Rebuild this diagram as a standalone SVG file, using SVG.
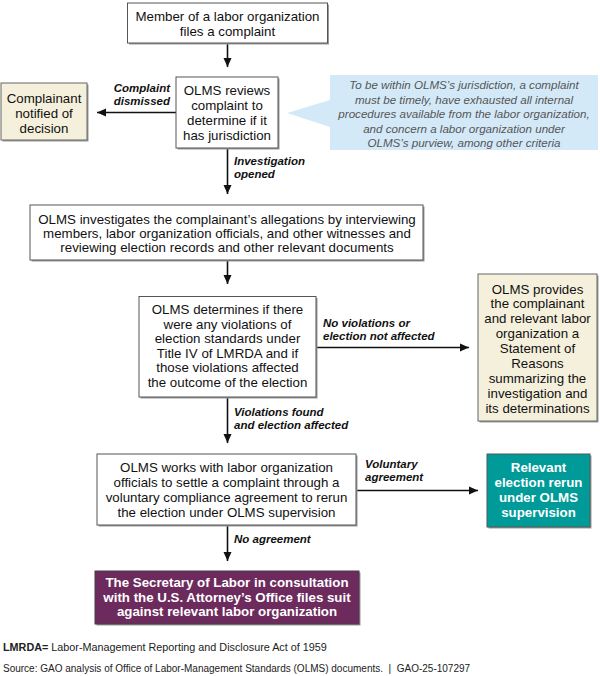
<svg xmlns="http://www.w3.org/2000/svg" width="600" height="676" viewBox="0 0 600 676">
<style>
.box{fill:#ffffff;stroke:#555555;stroke-width:1}
.cream{fill:#f5f0dc;stroke:#666666;stroke-width:1}
.teal{fill:#009b98;stroke:#4d5a5a;stroke-width:1}
.purple{fill:#6d2a5d;stroke:#4a3a45;stroke-width:1}
.shadow{fill:#9a9a9a}
.t{font-family:"Liberation Sans",Arial,sans-serif;font-size:13.3px;fill:#111111;text-anchor:middle}
.tw{font-family:"Liberation Sans",Arial,sans-serif;font-size:13.3px;font-weight:bold;fill:#ffffff;text-anchor:middle}
.lbl{font-family:"Liberation Sans",Arial,sans-serif;font-size:11.5px;font-weight:bold;font-style:italic;fill:#111111}
.note{font-family:"Liberation Sans",Arial,sans-serif;font-size:11.6px;font-style:italic;fill:#555555;text-anchor:middle}
.foot{font-family:"Liberation Sans",Arial,sans-serif;font-size:10.8px;fill:#222222}
.src{font-family:"Liberation Sans",Arial,sans-serif;font-size:10px;fill:#222222;white-space:pre}
.line{stroke:#111111;stroke-width:1.6;fill:none;marker-end:url(#ah)}
</style>
<defs>
<marker id="ah" markerUnits="userSpaceOnUse" markerWidth="10" markerHeight="10" refX="9" refY="5" orient="auto">
<path d="M0,1 L9,5 L0,9 z" fill="#111111"/>
</marker>
</defs>
<rect width="600" height="676" fill="#ffffff"/>

<g id="connectors">
<line class="line" x1="227.5" y1="43" x2="227.5" y2="67"/>
<line class="line" x1="176" y1="112.5" x2="97" y2="112.5"/>
<line class="line" x1="227.5" y1="148" x2="227.5" y2="194"/>
<line class="line" x1="227.5" y1="260" x2="227.5" y2="284"/>
<line class="line" x1="316" y1="347.5" x2="469" y2="347.5"/>
<line class="line" x1="227.5" y1="397" x2="227.5" y2="443"/>
<line class="line" x1="357" y1="490.5" x2="478" y2="490.5"/>
<line class="line" x1="227.5" y1="525" x2="227.5" y2="561"/>
<text class="lbl" text-anchor="end" x="170" y="92">Complaint</text>
<text class="lbl" text-anchor="end" x="170" y="105">dismissed</text>
<text class="lbl" x="234" y="165">Investigation</text>
<text class="lbl" x="234" y="178">opened</text>
<text class="lbl" x="323" y="326.5">No violations or</text>
<text class="lbl" x="323" y="340">election not affected</text>
<text class="lbl" x="234" y="416">Violations found</text>
<text class="lbl" x="234" y="428.5">and election affected</text>
<text class="lbl" x="365" y="467.5">Voluntary</text>
<text class="lbl" x="365" y="481">agreement</text>
<text class="lbl" x="234" y="543">No agreement</text>
</g>

<g id="n1">
<rect class="shadow" x="129" y="4.5" width="200" height="40"/>
<rect class="box" x="127.5" y="3" width="200" height="40"/>
<text class="t" x="227.5" y="20.5">Member of a labor organization</text>
<text class="t" x="227.5" y="35.5">files a complaint</text>
</g>

<g id="n2">
<rect class="shadow" x="177.5" y="78.5" width="102" height="71"/>
<rect class="box" x="176" y="77" width="102" height="71"/>
<text class="t" x="227" y="95">OLMS reviews</text>
<text class="t" x="227" y="110">complaint to</text>
<text class="t" x="227" y="125">determine if it</text>
<text class="t" x="227" y="140">has jurisdiction</text>
</g>

<g id="n-dismissed">
<rect class="shadow" x="2.5" y="84.5" width="86" height="57"/>
<rect class="cream" x="1" y="83" width="86" height="57"/>
<text class="t" x="44" y="102.5">Complainant</text>
<text class="t" x="44" y="117.5">notified of</text>
<text class="t" x="44" y="132.5">decision</text>
</g>

<g id="callout">
<path d="M330,75 L598,75 L598,150 L330,150 L330,127 L287,113 L330,100 Z" fill="#d4e9f8"/>
<text class="note" x="464" y="89">To be within OLMS’s jurisdiction, a complaint</text>
<text class="note" x="464" y="103.5">must be timely, have exhausted all internal</text>
<text class="note" x="464" y="118">procedures available from the labor organization,</text>
<text class="note" x="464" y="132.5">and concern a labor organization under</text>
<text class="note" x="464" y="147">OLMS’s purview, among other criteria</text>
</g>

<g id="n3">
<rect class="shadow" x="31.5" y="206.5" width="393" height="55"/>
<rect class="box" x="30" y="205" width="393" height="55"/>
<text class="t" x="227" y="223.5">OLMS investigates the complainant’s allegations by interviewing</text>
<text class="t" x="227" y="237.5">members, labor organization officials, and other witnesses and</text>
<text class="t" x="227" y="251.5">reviewing election records and other relevant documents</text>
</g>

<g id="n4">
<rect class="shadow" x="140.5" y="298" width="177" height="100.5"/>
<rect class="box" x="139" y="296.5" width="177" height="100.5"/>
<text class="t" x="227.5" y="314">OLMS determines if there</text>
<text class="t" x="227.5" y="328.5">were any violations of</text>
<text class="t" x="227.5" y="343">election standards under</text>
<text class="t" x="227.5" y="357.5">Title IV of LMRDA and if</text>
<text class="t" x="227.5" y="372">those violations affected</text>
<text class="t" x="227.5" y="386.5">the outcome of the election</text>
</g>

<g id="n5">
<rect class="shadow" x="479.5" y="275.5" width="119" height="147"/>
<rect class="cream" x="478" y="274" width="119" height="147"/>
<text class="t" x="537.5" y="293.5">OLMS provides</text>
<text class="t" x="537.5" y="308.4">the complainant</text>
<text class="t" x="537.5" y="323.3">and relevant labor</text>
<text class="t" x="537.5" y="338.2">organization a</text>
<text class="t" x="537.5" y="353.1">Statement of</text>
<text class="t" x="537.5" y="368">Reasons</text>
<text class="t" x="537.5" y="382.9">summarizing the</text>
<text class="t" x="537.5" y="397.8">investigation and</text>
<text class="t" x="537.5" y="412.7">its determinations</text>
</g>

<g id="n6">
<rect class="shadow" x="98.5" y="455.5" width="259" height="71"/>
<rect class="box" x="97" y="454" width="259" height="71"/>
<text class="t" x="226.5" y="471.5">OLMS works with labor organization</text>
<text class="t" x="226.5" y="486.5">officials to settle a complaint through a</text>
<text class="t" x="226.5" y="501.5">voluntary compliance agreement to rerun</text>
<text class="t" x="226.5" y="516.5">the election under OLMS supervision</text>
</g>

<g id="n7">
<rect class="shadow" x="488.5" y="455.5" width="103" height="73"/>
<rect class="teal" x="487" y="454" width="103" height="73"/>
<text class="tw" x="538.5" y="471.5">Relevant</text>
<text class="tw" x="538.5" y="486.5">election rerun</text>
<text class="tw" x="538.5" y="501.5">under OLMS</text>
<text class="tw" x="538.5" y="516.5">supervision</text>
</g>

<g id="n8">
<rect class="shadow" x="96.5" y="572.5" width="264" height="53"/>
<rect class="purple" x="95" y="571" width="264" height="53"/>
<text class="tw" x="227" y="586.5">The Secretary of Labor in consultation</text>
<text class="tw" x="227" y="601.5">with the U.S. Attorney’s Office files suit</text>
<text class="tw" x="227" y="616">against relevant labor organization</text>
</g>

<g id="footer">
<text class="foot" x="3" y="650.5"><tspan font-weight="bold">LMRDA=</tspan> Labor-Management Reporting and Disclosure Act of 1959</text>
<text class="src" x="3" y="672" xml:space="preserve">Source: GAO analysis of Office of Labor-Management Standards (OLMS) documents.  |  GAO-25-107297</text>
</g>
</svg>
